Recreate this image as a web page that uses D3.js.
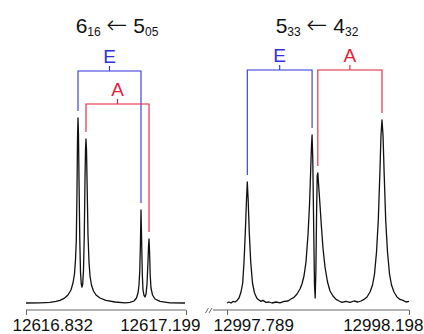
<!DOCTYPE html>
<html>
<head>
<meta charset="utf-8">
<script src="https://cdn.jsdelivr.net/npm/d3@7"></script>
<style>
  body { margin: 0; background: #fff; }
  svg { display: block; font-family: "Liberation Sans", Arial, sans-serif; }
</style>
</head>
<body>
<svg id="chart" width="424" height="334"></svg>
<script>
// 6_16 <- 5_05 band (wavenumber in cm-1, normalised intensity)
const leftFreq = [
  12616.8320, 12616.8641, 12616.8871, 12616.9008, 12616.9100, 12616.9192, 12616.9283, 12616.9352,
  12616.9398, 12616.9432, 12616.9455, 12616.9474, 12616.9490, 12616.9501, 12616.9513, 12616.9524,
  12616.9536, 12616.9554, 12616.9570, 12616.9588, 12616.9604, 12616.9621, 12616.9639, 12616.9657,
  12616.9673, 12616.9685, 12616.9696, 12616.9708, 12616.9724, 12616.9742, 12616.9765, 12616.9788,
  12616.9822, 12616.9868, 12616.9926, 12617.0017, 12617.0155, 12617.0361, 12617.0591, 12617.0705,
  12617.0797, 12617.0854, 12617.0889, 12617.0912, 12617.0930, 12617.0944, 12617.0958, 12617.0972,
  12617.0988, 12617.1004, 12617.1027, 12617.1050, 12617.1073, 12617.1096, 12617.1119, 12617.1132,
  12617.1142, 12617.1153, 12617.1169, 12617.1187, 12617.1222, 12617.1279, 12617.1394, 12617.1623,
  12617.1967
];
const leftInt = [
  0.000, 0.001, 0.003, 0.008, 0.013, 0.023, 0.040, 0.065,
  0.100, 0.145, 0.215, 0.315, 0.565, 0.815, 0.925, 0.840,
  0.615, 0.315, 0.155, 0.095, 0.080, 0.095, 0.165, 0.340,
  0.615, 0.765, 0.820, 0.765, 0.565, 0.340, 0.205, 0.135,
  0.090, 0.060, 0.040, 0.025, 0.013, 0.005, 0.001, 0.003,
  0.010, 0.025, 0.050, 0.090, 0.165, 0.290, 0.465, 0.315,
  0.140, 0.065, 0.038, 0.030, 0.045, 0.095, 0.215, 0.290,
  0.320, 0.265, 0.140, 0.075, 0.040, 0.020, 0.008, 0.001,
  0.000
];

// 5_33 <- 4_32 band
const rightFreq = [
  12997.7890, 12997.7935, 12997.7980, 12997.8025, 12997.8070, 12997.8115, 12997.8160, 12997.8205,
  12997.8243, 12997.8272, 12997.8301, 12997.8328, 12997.8346, 12997.8366, 12997.8391, 12997.8423,
  12997.8463, 12997.8508, 12997.8564, 12997.8609, 12997.8654, 12997.8699, 12997.8766, 12997.8834,
  12997.8901, 12997.8991, 12997.9081, 12997.9171, 12997.9261, 12997.9328, 12997.9396, 12997.9463,
  12997.9531, 12997.9575, 12997.9620, 12997.9665, 12997.9710, 12997.9744, 12997.9771, 12997.9789,
  12997.9802, 12997.9818, 12997.9836, 12997.9856, 12997.9872, 12997.9888, 12997.9904, 12997.9917,
  12997.9931, 12997.9949, 12997.9980, 12998.0014, 12998.0047, 12998.0092, 12998.0149, 12998.0205,
  12998.0272, 12998.0340, 12998.0407, 12998.0474, 12998.0564, 12998.0654, 12998.0744, 12998.0834,
  12998.0901, 12998.0969, 12998.1036, 12998.1104, 12998.1160, 12998.1205, 12998.1250, 12998.1290,
  12998.1324, 12998.1351, 12998.1373, 12998.1396, 12998.1423, 12998.1456, 12998.1497, 12998.1542,
  12998.1587, 12998.1643, 12998.1710, 12998.1778, 12998.1845, 12998.1913, 12998.1980
];
const rightInt = [
  0.000, 0.005, 0.000, 0.008, 0.005, 0.013, 0.025, 0.055,
  0.100, 0.205, 0.350, 0.515, 0.605, 0.515, 0.350, 0.205,
  0.100, 0.050, 0.023, 0.015, 0.008, 0.013, 0.003, 0.005,
  0.000, 0.005, 0.001, 0.008, 0.010, 0.020, 0.028, 0.045,
  0.070, 0.095, 0.135, 0.205, 0.340, 0.490, 0.665, 0.790,
  0.840, 0.715, 0.415, 0.090, 0.025, 0.165, 0.465, 0.635,
  0.650, 0.590, 0.490, 0.375, 0.275, 0.180, 0.105, 0.060,
  0.035, 0.018, 0.010, 0.003, 0.008, 0.003, 0.010, 0.005,
  0.010, 0.018, 0.030, 0.055, 0.090, 0.145, 0.255, 0.415,
  0.640, 0.840, 0.915, 0.840, 0.640, 0.415, 0.255, 0.145,
  0.090, 0.055, 0.030, 0.018, 0.013, 0.005, 0.008
];

// assigned doublets: [low, high] peak wavenumbers and their heights
const leftEPeaks = [12616.9513, 12617.0958];
const leftEHeights = [0.925, 0.465];
const leftAPeaks = [12616.9696, 12617.1142];
const leftAHeights = [0.820, 0.320];
const rightEPeaks = [12997.8346, 12997.9802];
const rightEHeights = [0.605, 0.840];
const rightAPeaks = [12997.9931, 12998.1373];
const rightAHeights = [0.650, 0.915];

const leftTicks = [12616.832, 12617.199];
const rightTicks = [12997.789, 12998.198];

const leftTitle = ["6", "16", "5", "05"];
const rightTitle = ["5", "33", "4", "32"];

const blue = "#3131dc";
const red = "#e41f3b";

const svg = d3.select("#chart");

const y = d3.scaleLinear().domain([0, 1]).range([303, 103]);
const xL = d3.scaleLinear().domain(leftTicks).range([26, 186]);
const xR = d3.scaleLinear().domain(rightTicks).range([227, 409]);

function drawSpectrum(x, freq, inten) {
  const pts = freq.map((f, i) => [f, inten[i]]);
  const line = d3.line().x(d => x(d[0])).y(d => y(d[1]));
  svg.append("path")
    .datum(pts)
    .attr("d", line)
    .attr("fill", "none")
    .attr("stroke", "#111")
    .attr("stroke-width", 1.3)
    .attr("stroke-linejoin", "round");
}

function drawBracket(x, peaks, heights, barY, color, label) {
  const gap = 7;
  const x0 = x(peaks[0]), x1 = x(peaks[1]);
  const xm = (x0 + x1) / 2;
  const g = svg.append("g");
  g.append("path")
    .attr("d", `M${x0},${y(heights[0]) - gap}V${barY}H${x1}V${y(heights[1]) - gap}M${xm},${barY}V${barY - 5}`)
    .attr("fill", "none")
    .attr("stroke", color)
    .attr("stroke-width", 1.1);
  g.append("text")
    .attr("x", xm)
    .attr("y", barY - 8)
    .attr("text-anchor", "middle")
    .attr("font-size", 19)
    .attr("fill", color)
    .text(label);
}

function drawTitle(cx, parts) {
  const t = svg.append("text")
    .attr("x", cx)
    .attr("y", 33)
    .attr("text-anchor", "middle")
    .attr("font-size", 21)
    .attr("fill", "#111");
  t.append("tspan").text(parts[0]);
  t.append("tspan").attr("font-size", 12).attr("dy", 3).text(parts[1]);
  t.append("tspan").attr("dy", -3).text(" ");
  t.append("tspan")
    .attr("font-family", "'DejaVu Sans', sans-serif")
    .attr("font-size", 25)
    .attr("font-weight", 300)
    .text("\u2190");
  t.append("tspan").text(" " + parts[2]);
  t.append("tspan").attr("font-size", 12).attr("dy", 3).text(parts[3]);
}

function drawAxis(x, ticks, lineStart) {
  const g = svg.append("g")
    .attr("transform", "translate(0,310)")
    .call(d3.axisBottom(x).tickValues(ticks).tickSize(5).tickSizeOuter(0).tickFormat(d3.format(".3f")));
  g.select(".domain").attr("d", `M${lineStart},0H${x.range()[1]}`).attr("stroke", "#666");
  g.selectAll(".tick line").attr("stroke", "#666");
  g.selectAll(".tick text")
    .attr("font-family", "'Liberation Sans', Arial, sans-serif")
    .attr("font-size", 17)
    .attr("fill", "#111")
    .attr("y", 9)
    .attr("text-anchor", (d, i) => i === 0 ? "start" : "end")
    .attr("dx", (d, i) => i === 0 ? -14 : 14);
}

drawSpectrum(xL, leftFreq, leftInt);
drawSpectrum(xR, rightFreq, rightInt);

drawBracket(xL, leftEPeaks, leftEHeights, 71, blue, "E");
drawBracket(xL, leftAPeaks, leftAHeights, 104, red, "A");
drawBracket(xR, rightEPeaks, rightEHeights, 70, blue, "E");
drawBracket(xR, rightAPeaks, rightAHeights, 70, red, "A");

drawTitle(117, leftTitle);
drawTitle(317, rightTitle);

drawAxis(xL, leftTicks, xL.range()[0]);
drawAxis(xR, rightTicks, 213);

// axis break mark
svg.append("path")
  .attr("d", "M205.5,313L208.5,308M209,313L212,308")
  .attr("stroke", "#666")
  .attr("stroke-width", 1)
  .attr("fill", "none");
</script>
</body>
</html>
